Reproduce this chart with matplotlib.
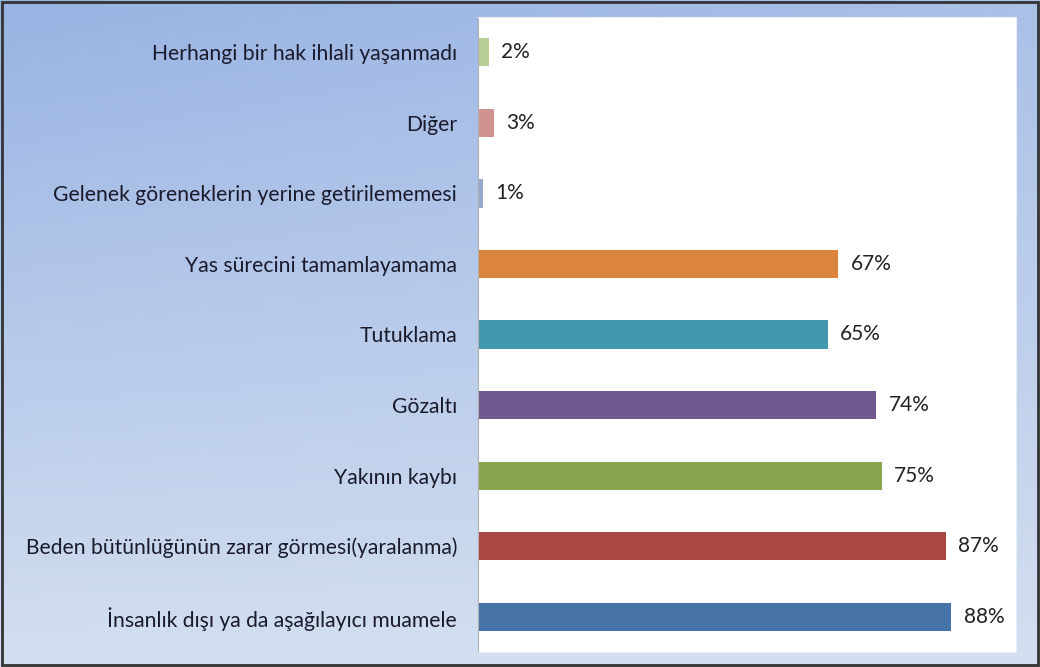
import matplotlib.pyplot as plt
import numpy as np
from matplotlib.patches import Rectangle

categories = ['İnsanlık dışı ya da aşağılayıcı muamele',
              'Beden bütünlüğünün zarar görmesi(yaralanma)',
              'Yakının kaybı',
              'Gözaltı',
              'Tutuklama',
              'Yas sürecini tamamlayamama',
              'Gelenek göreneklerin yerine getirilememesi',
              'Diğer',
              'Herhangi bir hak ihlali yaşanmadı']
values = [88, 87, 75, 74, 65, 67, 1, 3, 2]
colors = ['#4572a7', '#aa4643', '#89a54e', '#71588f', '#4198af',
          '#db843d', '#93a9cf', '#d19392', '#b9cd96']

plt.rcParams['font.family'] = ['Lato', 'DejaVu Sans']

fig = plt.figure(figsize=(10.4, 6.67), dpi=100)

# gradient background
bg = fig.add_axes([0, 0, 1, 1])
yy, xx = np.mgrid[0:1:200j, 0:1:200j]
t = np.clip(0.85 * yy + 0.25 * xx * (1 - yy), 0, 1)
top = np.array([152, 179, 227]) / 255
bottom = np.array([222, 231, 243]) / 255
img = top[None, None, :] * (1 - t[..., None]) + bottom[None, None, :] * t[..., None]
bg.imshow(img, extent=[0, 1, 0, 1], aspect='auto', origin='upper')
bg.set_axis_off()
bg.add_patch(Rectangle((0.002, 0.003), 0.996, 0.994, fill=False,
                       edgecolor='#333333', linewidth=2, transform=bg.transAxes))

ax = fig.add_axes([478 / 1040, 1 - 652 / 667, (1016 - 478) / 1040, (652 - 17) / 667])
ax.set_facecolor('white')
y = np.arange(len(categories))
ax.barh(y, values, height=0.4, color=colors)
for yi, v in zip(y, values):
    ax.text(v + 2.3, yi, f'{v}%', va='center', ha='left', fontsize=15, color='#222222')

ax.set_xlim(0, 100)
ax.set_ylim(-0.5, len(categories) - 0.5)
ax.set_yticks(y)
ax.set_yticklabels(categories, fontsize=15.2, color='#1a1a2a')
ax.tick_params(axis='y', length=0, pad=15)
ax.set_xticks([])
for side in ['top', 'right', 'bottom']:
    ax.spines[side].set_color('#e8eef8')
ax.spines['left'].set_color('#b0b0b0')

fig.savefig('out.png', dpi=100)
